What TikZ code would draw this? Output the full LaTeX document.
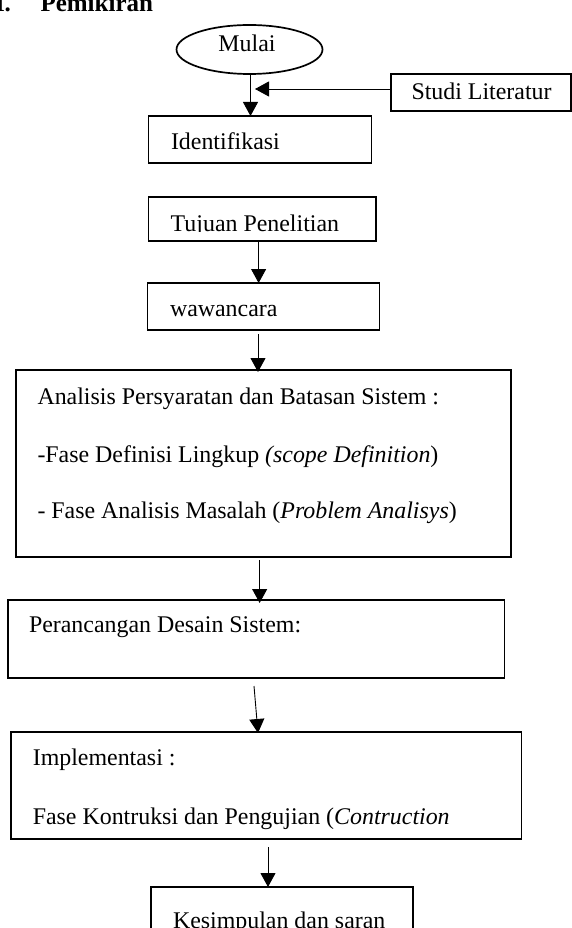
\documentclass[tikz,border=0pt]{standalone}
\usepackage{fontspec}
\setmainfont{Liberation Serif}
\usetikzlibrary{arrows.meta,calc}
\begin{document}
\begin{tikzpicture}[x=1pt,y=-1pt,
  every node/.style={font=\fontsize{23.9}{28}\selectfont, inner sep=0pt, outer sep=0pt},
  box/.style={draw, line width=1.7pt},
  txt/.style={anchor=base west},
  arr/.style={line width=0.9pt, -{Triangle[length=14pt,width=15pt]}}]
\useasboundingbox (0,0) rectangle (571,928);
% title (cut at top)
\node[anchor=base east, font=\fontsize{25}{28}\selectfont\bfseries] (tnum) at (11,12) {I.};
\node[anchor=base west, font=\fontsize{25}{28}\selectfont\bfseries] (tword) at (40.5,12) {Pemikiran};
% boxes
\draw[line width=1.7pt] (249.5,49.5) ellipse [x radius=73, y radius=24.5];
\coordinate (mulaiS) at (250.5,74);
\node[anchor=base] (mulai) at (247,52) {Mulai};
\node[box, fit/.style={}, minimum width=180pt, minimum height=37pt] (studi) at (481,92.5) {};
\node[box, minimum width=223pt, minimum height=47pt] (ident) at (260,139.5) {};
\node[box, minimum width=227.4pt, minimum height=44pt] (tujuan) at (262.3,219) {};
\node[box, minimum width=232pt, minimum height=47pt] (waw) at (263.5,306.5) {};
\node[box, minimum width=495.3pt, minimum height=187pt] (anal) at (263.35,463.5) {};
\node[box, minimum width=496.4pt, minimum height=78pt] (peran) at (256.2,639) {};
\node[box, minimum width=510.5pt, minimum height=107pt] (impl) at (266.25,785.5) {};
\node[box, minimum width=262pt, minimum height=80pt] (kes) at (282,927) {};
% texts
\node[txt] (tstudi) at (411.5,100) {Studi Literatur};
\node[txt] (tident) at (171,150) {Identifikasi};
\begin{scope}
\clip (150,199) rectangle (374,231.5);
\node[txt] (ttujuan) at (170.7,231) {Tujuan Penelitian};
\end{scope}
\node[txt] (twaw) at (170,316) {wawancara};
\node[txt] (tanal1) at (37.5,404) {Analisis Persyaratan dan Batasan Sistem :};
\node[txt] (tanal2) at (37.5,462) {-Fase Definisi Lingkup \textit{(scope Definition})};
\node[txt] (tanal3) at (37.5,518) {- Fase Analisis Masalah (\textit{Problem Analisys})};
\node[txt] (tperan) at (29,632) {Perancangan Desain Sistem:};
\node[txt] (timpl1) at (32.8,765) {Implementasi :};
\node[txt] (timpl2) at (32.8,824) {Fase Kontruksi dan Pengujian (\textit{Contruction}};
\node[txt] (tkes) at (173,928) {Kesimpulan dan saran};
% connectors
\draw[arr] (mulaiS) -- (mulaiS |- ident.north);
\coordinate (litend) at (255,89);
\draw[arr] (studi.west |- litend) -- (litend);
\draw[arr] (258.6,241) -- (258.6,283);
\draw[arr] ([xshift=-5.5pt,yshift=-4pt]waw.south) -- ([xshift=-5.5pt,yshift=-2pt]waw.south |- anal.north);
\draw[arr] ([xshift=-3.7pt,yshift=-3pt]anal.south) -- ([xshift=-3.7pt,yshift=-3pt]anal.south |- peran.north);
\coordinate (pa) at (254,686);
\draw[arr] (pa) -- (258,733);
\draw[arr] ([xshift=1.75pt,yshift=-8pt]impl.south) -- ([xshift=1.75pt]impl.south |- kes.north);
\end{tikzpicture}
\end{document}
